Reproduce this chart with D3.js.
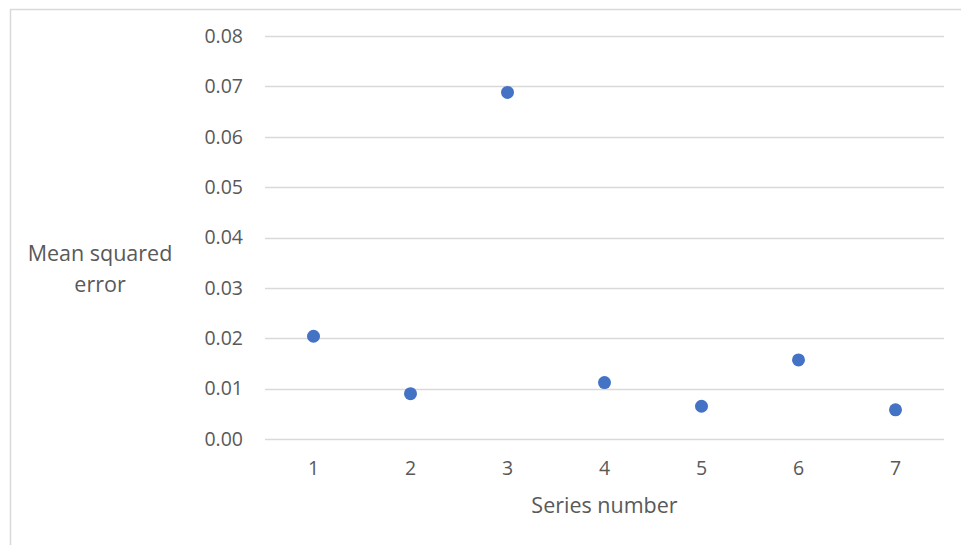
<!DOCTYPE html>
<html><head><meta charset="utf-8">
<script src="https://cdn.jsdelivr.net/npm/d3@7/dist/d3.min.js"></script>
<style>body{margin:0;background:#fff;} svg{display:block;font-family:"Open Sans",sans-serif;}</style>
</head><body>
<svg id="c" width="961" height="545"></svg>
<script>
const categories = ["1","2","3","4","5","6","7"];
const mseValues = [0.0204, 0.0090, 0.0688, 0.0112, 0.0065, 0.0157, 0.0058];
const yTicks = [0,0.01,0.02,0.03,0.04,0.05,0.06,0.07,0.08];
const yTitleLines = ["Mean squared","error"];
const xTitle = "Series number";

(function(){
const svg = d3.select("#c");
svg.append("path").attr("d","M10.5,545 L10.5,9.5 L961,9.5").attr("fill","none").attr("stroke","#d9d9d9").attr("stroke-width",1.5);

const pL=265, pR=944, pT=36, pB=439;
const x = d3.scaleBand().domain(categories).range([pL,pR]);
const y = d3.scaleLinear().domain([0,0.08]).range([pB,pT]);

const grid = svg.append("g");
grid.selectAll("line").data(yTicks).join("line")
  .attr("x1",pL).attr("x2",pR)
  .attr("y1",d=>Math.round(y(d))+0.5).attr("y2",d=>Math.round(y(d))+0.5)
  .attr("stroke","#d9d9d9").attr("stroke-width",1.3);

const yAxis = svg.append("g").attr("transform",`translate(${pL},0)`)
  .call(d3.axisLeft(y).tickValues(yTicks).tickFormat(d3.format(".2f")).tickSize(0).tickPadding(22));
yAxis.select(".domain").remove();
yAxis.selectAll("text").attr("fill","#595959").attr("font-size",19.5).attr("font-family","Open Sans");

const xAxis = svg.append("g").attr("transform",`translate(0,${pB})`)
  .call(d3.axisBottom(x).tickSize(0).tickPadding(22));
xAxis.select(".domain").remove();
xAxis.selectAll("text").attr("fill","#595959").attr("font-size",19.5).attr("font-family","Open Sans");

svg.append("g").selectAll("circle").data(mseValues).join("circle")
  .attr("cx",(d,i)=>x(categories[i])+x.bandwidth()/2)
  .attr("cy",d=>y(d))
  .attr("r",6.5).attr("fill","#4472C4");

svg.append("text").attr("text-anchor","middle")
  .attr("fill","#595959").attr("font-size",21.5)
  .selectAll("tspan").data(yTitleLines).join("tspan")
  .attr("x",100).attr("y",(d,i)=>261+i*31).text(d=>d);

svg.append("text").attr("x",(pL+pR)/2).attr("y",513).attr("text-anchor","middle")
  .attr("fill","#595959").attr("font-size",21.5).text(xTitle);
})();
</script>
</body></html>
